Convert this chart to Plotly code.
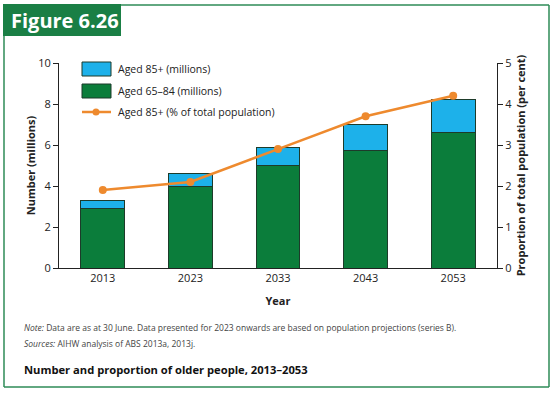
import plotly.graph_objects as go

years = ["2013", "2023", "2033", "2043", "2053"]
aged_65_84 = [2.9, 4.0, 5.0, 5.75, 6.6]
aged_85_plus = [0.4, 0.6, 0.9, 1.25, 1.6]
aged_85_pct = [1.9, 2.1, 2.9, 3.7, 4.2]
legend_labels = ["Aged 85+ (millions)", "Aged 65–84 (millions)", "Aged 85+ (% of total population)"]

GREEN = "#0B7D3B"
BLUE = "#1DB1EA"
ORANGE = "#EE8A2E"
FRAME = "#2E8B57"
FONT = "Open Sans"

W, H = 553, 394
L, R, T, B = 59, 497, 63, 268

def px(x):
    return (x - L) / (R - L)

def py(y):
    return (B - y) / (B - T)

fig = go.Figure()
fig.add_trace(go.Bar(x=years, y=aged_65_84, name=legend_labels[1], marker=dict(color=GREEN, line=dict(color="#1d3b2a", width=1)), width=0.5, showlegend=False))
fig.add_trace(go.Bar(x=years, y=aged_85_plus, name=legend_labels[0], marker=dict(color=BLUE, line=dict(color="#1d3b2a", width=1)), width=0.5, showlegend=False))
fig.add_trace(go.Scatter(x=years, y=aged_85_pct, name=legend_labels[2], yaxis="y2", mode="lines+markers",
                         line=dict(color=ORANGE, width=2.5), marker=dict(color=ORANGE, size=8), showlegend=False))

shapes = []
annotations = []
# outer frame
for (x0, y0, x1, y1) in [(4, 5, 549, 5), (4, 5, 4, 387), (549, 5, 549, 387), (4, 387, 549, 387)]:
    shapes.append(dict(type="line", xref="paper", yref="paper", x0=px(x0), y0=py(y0), x1=px(x1), y1=py(y1),
                       line=dict(color=FRAME, width=1.5)))
# title box
shapes.append(dict(type="rect", xref="paper", yref="paper", x0=px(3), y0=py(4), x1=px(121), y1=py(36),
                   fillcolor="#1A7F45", line=dict(width=0)))
annotations.append(dict(text="<b>Figure 6.26</b>", xref="paper", yref="paper", x=px(9), y=py(20),
                        xanchor="left", yanchor="middle", showarrow=False,
                        font=dict(family=FONT, size=20, color="white")))
# manual legend
leg_y = [69, 91, 112]
shapes.append(dict(type="rect", xref="paper", yref="paper", x0=px(82), y0=py(62), x1=px(111), y1=py(76),
                   fillcolor=BLUE, line=dict(color="#1d3b2a", width=1)))
shapes.append(dict(type="rect", xref="paper", yref="paper", x0=px(82), y0=py(84), x1=px(111), y1=py(98),
                   fillcolor=GREEN, line=dict(color="#1d3b2a", width=1)))
shapes.append(dict(type="line", xref="paper", yref="paper", x0=px(82), y0=py(112), x1=px(111), y1=py(112),
                   line=dict(color=ORANGE, width=2.5)))
shapes.append(dict(type="circle", xref="paper", yref="paper", x0=px(92.5), y0=py(108.5), x1=px(99.5), y1=py(115.5),
                   fillcolor=ORANGE, line=dict(width=0)))
for lab, yy in zip(legend_labels, leg_y):
    annotations.append(dict(text=lab, xref="paper", yref="paper", x=px(116), y=py(yy), xanchor="left",
                            yanchor="middle", showarrow=False, font=dict(family=FONT, size=10.5, color="#222")))
# notes
annotations.append(dict(text="<i>Note:</i> Data are as at 30 June. Data presented for 2023 onwards are based on population projections (series B).",
                        xref="paper", yref="paper", x=px(22), y=py(327), xanchor="left", yanchor="middle",
                        showarrow=False, font=dict(family=FONT, size=8.5, color="#444")))
annotations.append(dict(text="<i>Sources:</i> AIHW analysis of ABS 2013a, 2013j.",
                        xref="paper", yref="paper", x=px(22), y=py(343), xanchor="left", yanchor="middle",
                        showarrow=False, font=dict(family=FONT, size=8.5, color="#444")))
annotations.append(dict(text="<b>Number and proportion of older people, 2013–2053</b>",
                        xref="paper", yref="paper", x=px(22), y=py(369), xanchor="left", yanchor="middle",
                        showarrow=False, font=dict(family=FONT, size=11.2, color="#111")))

fig.update_layout(
    template="none",
    width=W, height=H,
    margin=dict(l=L, r=W - R, t=T, b=H - B, pad=0, autoexpand=False),
    barmode="stack",
    plot_bgcolor="white", paper_bgcolor="white",
    font=dict(family=FONT, size=11, color="#222"),
    shapes=shapes, annotations=annotations,
    xaxis=dict(type="category", automargin=False, showline=True, linecolor="#222", linewidth=1, ticks="", showgrid=False,
               title=dict(text="<b>Year</b>", font=dict(size=11), standoff=13), tickfont=dict(size=11)),
    yaxis=dict(automargin=False, range=[0, 10], dtick=2, showline=True, linecolor="#222", linewidth=1, ticks="outside",
               ticklen=5, tickcolor="#222", showgrid=False, zeroline=False,
               title=dict(text="<b>Number (millions)</b>", font=dict(size=11), standoff=0)),
    yaxis2=dict(automargin=False, range=[0, 5], dtick=1, overlaying="y", side="right", showline=True, linecolor="#222",
                linewidth=1, ticks="outside", ticklen=5, tickcolor="#222", showgrid=False, zeroline=False,
                title=dict(text="<b>Proportion of total population (per cent)</b>", font=dict(size=11), standoff=6)),
)

fig.write_html("out.html", config={"displayModeBar": False},
               post_script="document.body.style.margin='0';")
